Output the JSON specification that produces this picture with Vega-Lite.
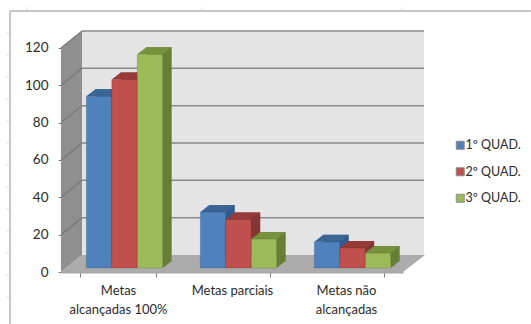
{
  "$schema": "https://vega.github.io/schema/vega-lite/v6.json",
  "width": 470,
  "height": 241,
  "autosize": {"type": "none"},
  "padding": {"left": 61, "top": 31, "right": 0, "bottom": 52},
  "background": "white",
  "config": {"view": {"stroke": null}, "text": {"font": "Lato"}},
  "datasets": {
    "metas": [
      {"meta": "Metas alcançadas 100%", "quad": "1º QUAD.", "valor": 92},
      {"meta": "Metas alcançadas 100%", "quad": "2º QUAD.", "valor": 101},
      {"meta": "Metas alcançadas 100%", "quad": "3º QUAD.", "valor": 114.5},
      {"meta": "Metas parciais", "quad": "1º QUAD.", "valor": 30},
      {"meta": "Metas parciais", "quad": "2º QUAD.", "valor": 26},
      {"meta": "Metas parciais", "quad": "3º QUAD.", "valor": 15.5},
      {"meta": "Metas não alcançadas", "quad": "1º QUAD.", "valor": 14},
      {"meta": "Metas não alcançadas", "quad": "2º QUAD.", "valor": 10.7},
      {"meta": "Metas não alcançadas", "quad": "3º QUAD.", "valor": 8}
    ],
    "grade": [{"nivel": 20}, {"nivel": 40}, {"nivel": 60}, {"nivel": 80}, {"nivel": 100}, {"nivel": 120}],
    "reguaLateral": [
      {"marca": 128}, {"marca": 116.2}, {"marca": 104.5}, {"marca": 92.7}, {"marca": 80.9}, {"marca": 69.1},
      {"marca": 57.3}, {"marca": 45.5}, {"marca": 33.8}, {"marca": 22}, {"marca": 10.2}, {"marca": -1.6}, {"marca": -13.4}
    ],
    "reguaSuperior": [{"marca": -0.0994}, {"marca": 0.412}, {"marca": 0.997}],
    "cena": [{"item": "cena"}]
  },
  "layer": [
    {
      "data": {"name": "cena"},
      "mark": {"type": "rule", "color": "#c6c6c6", "strokeWidth": 2},
      "encoding": {
        "x": {"datum": -0.149, "type": "quantitative", "axis": null, "scale": {"domain": [0, 1], "range": [0, 342]}},
        "y": {"datum": 139.8, "type": "quantitative", "axis": null, "scale": {"domain": [0, 129.1]}},
        "x2": {"datum": 1.374}
      }
    },
    {
      "data": {"name": "cena"},
      "mark": {"type": "rule", "color": "#c6c6c6", "strokeWidth": 2},
      "encoding": {
        "x": {"datum": -0.149, "type": "quantitative", "axis": null, "scale": {"domain": [0, 1], "range": [0, 342]}},
        "y": {"datum": -28, "type": "quantitative", "axis": null, "scale": {"domain": [0, 129.1]}},
        "y2": {"datum": 139.8}
      }
    },
    {
      "data": {"name": "reguaLateral"},
      "mark": {"type": "rule", "color": "#e2e2e2", "strokeWidth": 1},
      "encoding": {
        "x": {"datum": -0.161, "type": "quantitative", "axis": null, "scale": {"domain": [0, 1], "range": [0, 342]}},
        "x2": {"datum": -0.152},
        "y": {"field": "marca", "type": "quantitative", "axis": null, "scale": {"domain": [0, 129.1]}}
      }
    },
    {
      "data": {"name": "reguaSuperior"},
      "mark": {"type": "rule", "color": "#e2e2e2", "strokeWidth": 1},
      "encoding": {
        "x": {"field": "marca", "type": "quantitative", "axis": null, "scale": {"domain": [0, 1], "range": [0, 342]}},
        "y": {"datum": 141.9, "type": "quantitative", "axis": null, "scale": {"domain": [0, 129.1]}},
        "y2": {"datum": 140.3}
      }
    },
    {
      "data": {"name": "cena"},
      "mark": {"type": "rect", "fill": "#e4e4e4"},
      "encoding": {
        "x": {"datum": 0.0614, "type": "quantitative", "axis": null, "scale": {"domain": [0, 1], "range": [0, 342]}},
        "x2": {"datum": 1.0614},
        "y": {"datum": 9.1, "type": "quantitative", "axis": null, "scale": {"domain": [0, 129.1]}},
        "y2": {"datum": 129.1}
      }
    },
    {
      "data": {"name": "cena"},
      "mark": {"type": "point", "shape": "M0,0L21,-17L21,-241L0,-224Z", "size": 4, "filled": true, "fill": "#8f8f8f", "opacity": 1, "strokeWidth": 0},
      "encoding": {
        "x": {"datum": 0, "type": "quantitative", "axis": null, "scale": {"domain": [0, 1], "range": [0, 342]}},
        "y": {"datum": 0, "type": "quantitative", "axis": null, "scale": {"domain": [0, 129.1]}}
      }
    },
    {
      "data": {"name": "cena"},
      "mark": {"type": "point", "shape": "M0,0L21,-17L364,-17L342,0Z", "size": 4, "filled": true, "fill": "#ababab", "opacity": 1, "strokeWidth": 0},
      "encoding": {
        "x": {"datum": 0, "type": "quantitative", "axis": null, "scale": {"domain": [0, 1], "range": [0, 342]}},
        "y": {"datum": 0, "type": "quantitative", "axis": null, "scale": {"domain": [0, 129.1]}}
      }
    },
    {
      "data": {"name": "grade"},
      "mark": {"type": "rule", "color": "#8a8a8a", "strokeWidth": 1.5, "yOffset": -17},
      "encoding": {
        "x": {"datum": 0.0614, "type": "quantitative", "axis": null, "scale": {"domain": [0, 1], "range": [0, 342]}},
        "x2": {"datum": 1.0614},
        "y": {"field": "nivel", "type": "quantitative", "axis": null, "scale": {"domain": [0, 129.1]}}
      }
    },
    {
      "data": {"name": "grade"},
      "mark": {"type": "point", "shape": "M0,0L21,-17", "size": 4, "filled": false, "stroke": "#777777", "strokeWidth": 1.2, "opacity": 1},
      "encoding": {
        "x": {"datum": 0, "type": "quantitative", "axis": null, "scale": {"domain": [0, 1], "range": [0, 342]}},
        "y": {"field": "nivel", "type": "quantitative", "axis": null, "scale": {"domain": [0, 129.1]}}
      }
    },
    {
      "data": {"name": "metas"},
      "mark": {"type": "bar", "opacity": 0},
      "encoding": {
        "x": {
          "field": "meta", "type": "nominal", "sort": null, "title": null,
          "scale": {"range": [0, 342], "paddingInner": 0.33, "paddingOuter": 0.165},
          "axis": {
            "labelAngle": 0, "labelFont": "Lato", "labelFontSize": 13, "labelColor": "#2b2b2b",
            "labelLineHeight": 19, "labelPadding": 7, "labelLimit": 0,
            "domainColor": "#a6a6a6", "domainWidth": 2, "tickColor": "#7f7f7f", "tickSize": 5, "tickBand": "extent",
            "labelExpr": "datum.label == 'Metas alcançadas 100%' ? ['Metas', 'alcançadas 100%'] : datum.label == 'Metas não alcançadas' ? ['Metas não', 'alcançadas'] : datum.label"
          }
        },
        "y": {
          "field": "valor", "type": "quantitative", "title": null,
          "scale": {"domain": [0, 129.1]},
          "axis": {
            "values": [0, 20, 40, 60, 80, 100, 120], "grid": false, "domain": false,
            "labelFont": "Lato", "labelFontSize": 13.5, "labelColor": "#2b2b2b", "labelPadding": 10,
            "tickColor": "#7f7f7f", "tickSize": 3
          }
        }
      }
    },
    {
      "data": {"name": "metas"},
      "mark": {"type": "bar", "yOffset": -11},
      "encoding": {
        "x": {"field": "meta", "type": "nominal", "sort": null, "axis": null, "scale": {"range": [15.5, 357.5], "paddingInner": 0.33, "paddingOuter": 0.165}},
        "xOffset": {"field": "quad", "type": "nominal", "sort": null},
        "y": {"field": "valor", "type": "quantitative", "axis": null, "scale": {"domain": [0, 129.1]}},
        "color": {"field": "quad", "type": "nominal", "legend": null, "scale": {"domain": ["1º QUAD.", "2º QUAD.", "3º QUAD."], "range": ["#325a8a", "#843634", "#677f35"]}}
      }
    },
    {
      "data": {"name": "metas"},
      "mark": {"type": "point", "shape": "M12.73,0L21.73,-7L12.73,-7Z", "size": 4, "filled": true, "opacity": 1, "strokeWidth": 0, "yOffset": -4},
      "encoding": {
        "x": {"field": "meta", "type": "nominal", "sort": null, "axis": null, "scale": {"range": [6.5, 348.5], "paddingInner": 0.33, "paddingOuter": 0.165}},
        "xOffset": {"field": "quad", "type": "nominal", "sort": null},
        "y": {"datum": 0, "type": "quantitative", "axis": null, "scale": {"domain": [0, 129.1]}},
        "color": {"field": "quad", "type": "nominal", "legend": null, "scale": {"domain": ["1º QUAD.", "2º QUAD.", "3º QUAD."], "range": ["#325a8a", "#843634", "#677f35"]}}
      }
    },
    {
      "data": {"name": "metas"},
      "mark": {"type": "point", "shape": "M-12.73,0L12.73,0L21.73,-7L-3.73,-7Z", "size": 4, "filled": true, "opacity": 1, "strokeWidth": 0, "yOffset": -4},
      "encoding": {
        "x": {"field": "meta", "type": "nominal", "sort": null, "axis": null, "scale": {"range": [6.5, 348.5], "paddingInner": 0.33, "paddingOuter": 0.165}},
        "xOffset": {"field": "quad", "type": "nominal", "sort": null},
        "y": {"field": "valor", "type": "quantitative", "axis": null, "scale": {"domain": [0, 129.1]}},
        "color": {"field": "quad", "type": "nominal", "legend": null, "scale": {"domain": ["1º QUAD.", "2º QUAD.", "3º QUAD."], "range": ["#3a6595", "#953a38", "#76923c"]}}
      }
    },
    {
      "data": {"name": "metas"},
      "mark": {"type": "bar", "yOffset": -4, "stroke": "#000000", "strokeOpacity": 0.12, "strokeWidth": 1},
      "encoding": {
        "x": {"field": "meta", "type": "nominal", "sort": null, "axis": null, "scale": {"range": [6.5, 348.5], "paddingInner": 0.33, "paddingOuter": 0.165}},
        "xOffset": {"field": "quad", "type": "nominal", "sort": null},
        "y": {"field": "valor", "type": "quantitative", "axis": null, "scale": {"domain": [0, 129.1]}},
        "color": {
          "field": "quad", "type": "nominal",
          "scale": {"domain": ["1º QUAD.", "2º QUAD.", "3º QUAD."], "range": ["#4f81bd", "#c0504d", "#9bbb59"]},
          "legend": {
            "title": null, "orient": "none", "legendX": 393, "legendY": 108,
            "symbolType": "square", "symbolSize": 64, "symbolStrokeWidth": 1, "symbolStrokeColor": "#8c8c8c",
            "labelFont": "Lato", "labelFontSize": 12.5, "labelColor": "#2b2b2b", "labelOffset": -1, "rowPadding": 13.5
          }
        }
      }
    }
  ],
  "resolve": {
    "scale": {"x": "independent", "color": "independent"},
    "axis": {"x": "independent", "y": "independent"},
    "legend": {"color": "independent"}
  }
}
